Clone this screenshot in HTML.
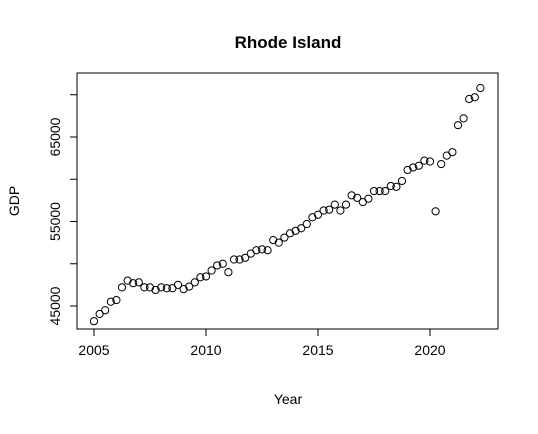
<!DOCTYPE html>
<html><head><meta charset="utf-8"><style>
body{margin:0;background:#fff;}
svg text{font-family:"Liberation Sans",Arial,sans-serif;fill:#000;}
</style></head><body>
<svg id="chart" width="538" height="429" xmlns="http://www.w3.org/2000/svg">
<text x="288" y="48" font-size="17" font-weight="bold" text-anchor="middle">Rhode Island</text>
<rect x="77" y="73" width="421" height="256" fill="none" stroke="#000" stroke-width="1"/>
<text x="288" y="404" font-size="14" text-anchor="middle">Year</text>
<text transform="translate(19,201) rotate(-90)" font-size="14" text-anchor="middle">GDP</text>
<g id="xaxis"></g>
<g id="yaxis"></g>
<g id="points"></g>
</svg>
<script>
const startYear = 2005;
const quarterStep = 0.25;
const gdpValues = [43200,44050,44500,45500,45700,47200,48000,47700,47800,47200,47200,46900,47200,47100,47100,47500,47000,47300,47800,48400,48500,49200,49800,50000,49000,50500,50500,50700,51200,51600,51700,51600,52800,52500,53100,53600,53900,54200,54700,55500,55800,56300,56400,57000,56300,57000,58100,57800,57300,57700,58600,58600,58600,59200,59100,59800,61100,61400,61600,62200,62100,56200,61800,62800,63200,66400,67200,69500,69700,70800];
const xTicks = [2005,2010,2015,2020];
const yTicks = [45000,50000,55000,60000,65000,70000];
const yTickLabels = ["45000","","55000","","65000",""];

const NS="http://www.w3.org/2000/svg";
function sx(v){return 94+(v-2005)*22.4;}
function sy(v){return 306-(v-45000)*0.00845;}
function mk(tag,attrs,parent){const e=document.createElementNS(NS,tag);for(const k in attrs)e.setAttribute(k,attrs[k]);parent.appendChild(e);return e;}

const xa=document.getElementById('xaxis');
mk('line',{x1:sx(xTicks[0]),x2:sx(xTicks[xTicks.length-1]),y1:329,y2:329,stroke:'#000'},xa);
xTicks.forEach(t=>{
  const l=mk('line',{x1:sx(t),x2:sx(t),y1:329,y2:336,stroke:'#000'},xa);
  
  
  const tx=mk('text',{x:sx(t),y:355,'font-size':14,'text-anchor':'middle'},xa);
  tx.textContent=t;
  
  
});
const ya=document.getElementById('yaxis');
mk('line',{x1:77,x2:77,y1:sy(yTicks[0]),y2:sy(yTicks[yTicks.length-1]),stroke:'#000'},ya);
yTicks.forEach((t,i)=>{
  const l=mk('line',{x1:70,x2:77,y1:sy(t),y2:sy(t),stroke:'#000'},ya);
  
  
  if(yTickLabels[i]){
    const tx=mk('text',{transform:`translate(60,${sy(t)}) rotate(-90)`,'font-size':14,'text-anchor':'middle'},ya);
    tx.textContent=yTickLabels[i];
    
    
  }
});
const pg=document.getElementById('points');
gdpValues.forEach((v,i)=>{
  const c=mk('circle',{cx:sx(startYear+i*quarterStep),cy:sy(v),r:3.6,fill:'none',stroke:'#000','stroke-width':1},pg);
  
  
});
</script>
</body></html>
